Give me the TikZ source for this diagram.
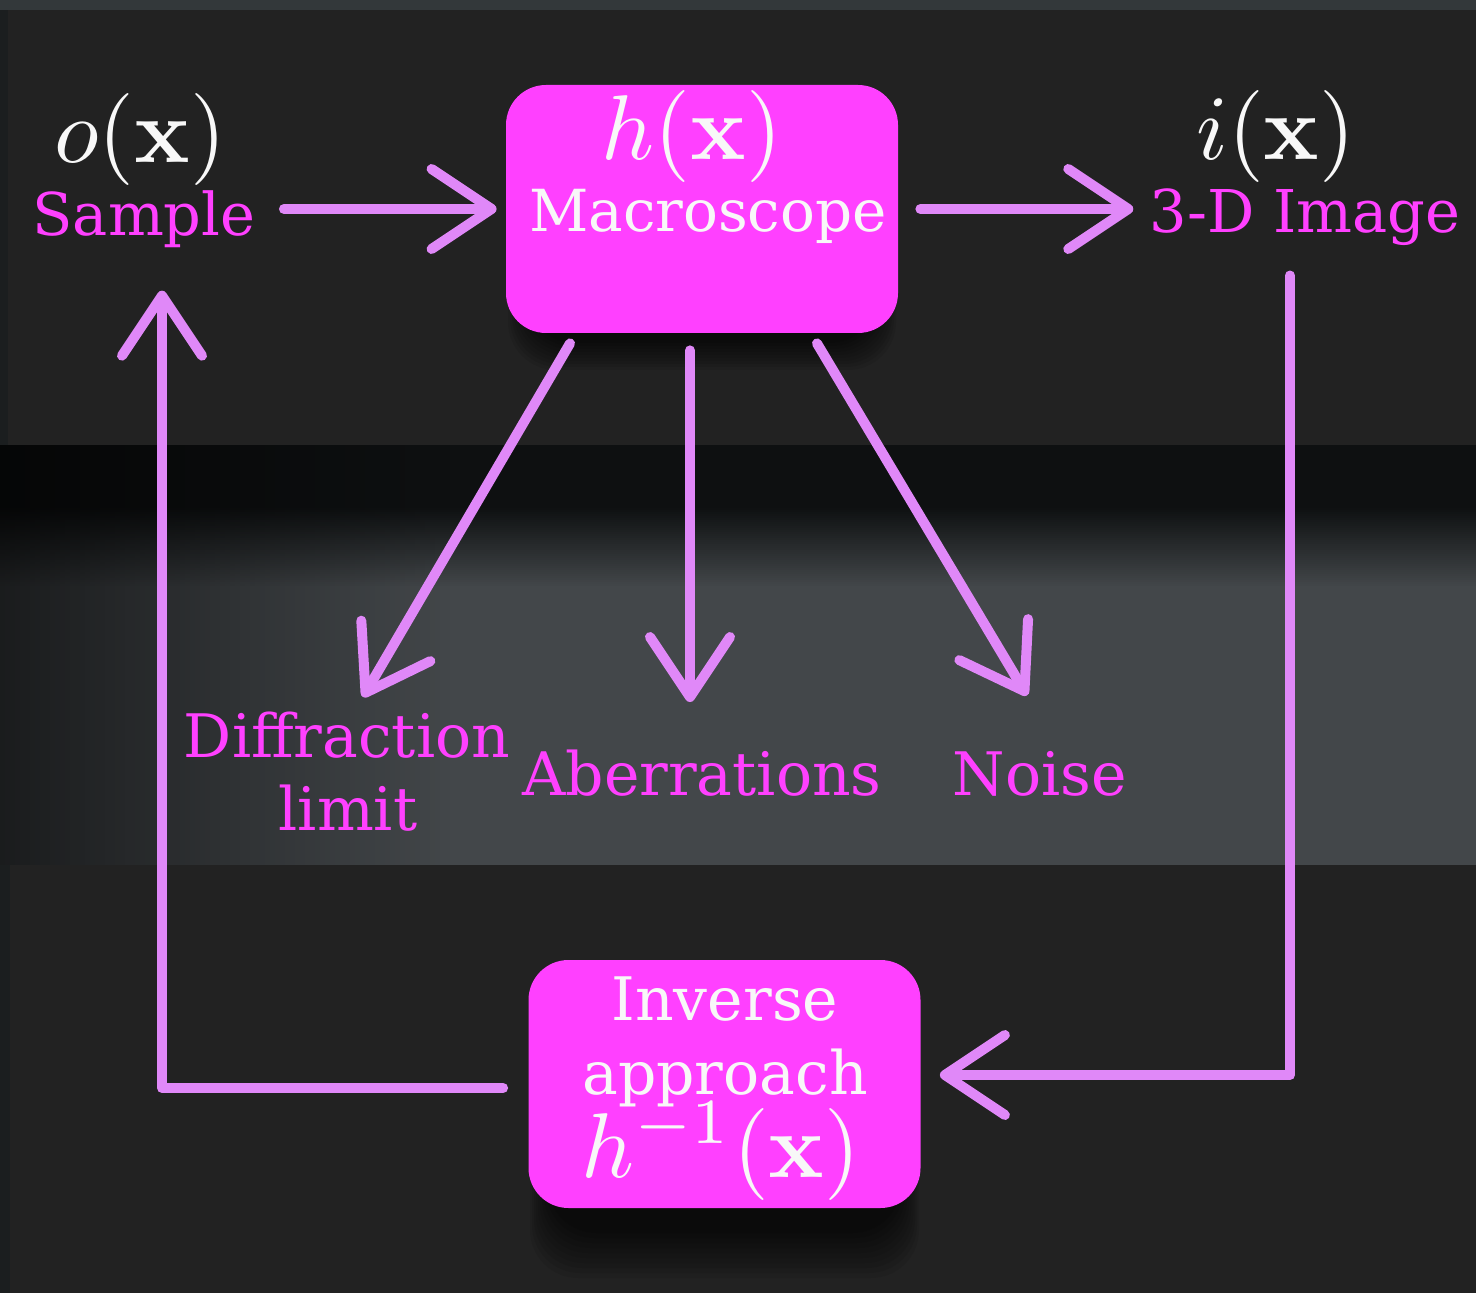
\documentclass[tikz,border=0pt]{standalone}
\usepackage{graphicx}
\usepackage[no-math]{fontspec}
\setmainfont{DejaVu Serif}
\usetikzlibrary{arrows.meta,calc}
\definecolor{panel}{HTML}{222222}
\definecolor{basebg}{HTML}{1B1E1F}
\definecolor{topstrip}{HTML}{33383A}
\definecolor{midgray}{HTML}{43474A}
\definecolor{darkband}{HTML}{0E1011}
\definecolor{chalk}{HTML}{E088F8}
\definecolor{mag}{HTML}{FF40FF}
\definecolor{wht}{HTML}{F8F8F8}
\newcommand{\bigmath}[1]{\scalebox{4.6}{$#1$}}
\tikzset{
  txt/.style={inner sep=0pt, anchor=base},
  maglbl/.style={txt, text=mag, font=\fontsize{29.5}{32}\selectfont},
  sidelbl/.style={txt, text=mag, font=\fontsize{30}{32}\selectfont},
  whtlbl/.style={txt, text=wht, font=\fontsize{29}{32}\selectfont},
  mathlbl/.style={txt, text=wht},
  boxnode/.style={fill=mag, rounded corners=20pt, minimum width=196pt, minimum height=124pt, inner sep=0pt},
  chalkline/.style={draw=chalk, line width=5pt, line cap=round, line join=round,
    -{Straight Barb[length=30pt,width=40pt,round]}},
}
\begin{document}
\begin{tikzpicture}[x=0.5pt,y=-0.5pt]
\useasboundingbox (0,0) rectangle (1476,1293);
% background
\fill[basebg] (0,0) rectangle (1476,1293);
\fill[topstrip] (0,0) rectangle (1476,10);
\fill[panel] (8,10) rectangle (1476,445);
\fill[midgray] (0,445) rectangle (1476,865);
\fill[darkband] (0,445) rectangle (1476,506);
\foreach \j in {0,...,39}{
  \fill[darkband, opacity={1-\j/40}] (0,{506+\j*2}) rectangle (1476,{508+\j*2});
}
\foreach \i in {0,...,89}{
  \fill[black, opacity={0.6*(1-\i/90)}] ({\i*5},445) rectangle ({\i*5+5},865);
}
\fill[panel] (10,865) rectangle (1476,1293);
% shadows
\foreach \i in {1,...,10}{
  \fill[black, opacity=0.08, rounded corners=24pt] ({506+\i*2},{100+\i*1}) rectangle ({898-\i*2},{333+40-\i*3});
  \fill[black, opacity=0.08, rounded corners=24pt] ({528+\i*2},{985+\i*1}) rectangle ({921-\i*2},{1208+75-\i*5});
}
% boxes
\node[boxnode] (mac) at (702,209) {};
\node[boxnode] (inv) at (724.5,1084) {};
% texts
\node[mathlbl] (ox) at (140,163) {\bigmath{o(\mathbf{x})}};
\node[maglbl] (sample) at (144,236) {Sample};
\node[mathlbl] (hx) at (692,160) {\bigmath{h(\mathbf{x})}};
\node[whtlbl] (macro) at (708,232) {Macroscope};
\node[mathlbl] (ix) at (1276,160) {\bigmath{i(\mathbf{x})}};
\node[maglbl] (img) at (1305,233) {3-D Image};
\node[sidelbl] (diff) at (347,757) {Diffraction};
\node[sidelbl] (lim) at (348,830) {limit};
\node[sidelbl] (aber) at (702,795) {Aberrations};
\node[sidelbl] (noise) at (1040,795) {Noise};
\node[whtlbl, font=\fontsize{30}{32}\selectfont] (inverse) at (725,1020) {Inverse};
\node[whtlbl, font=\fontsize{30}{32}\selectfont] (appr) at (725,1094) {approach};
\node[mathlbl] (hinv) at (721,1177) {\bigmath{h^{-1}(\mathbf{x})}};
% connectors
\draw[chalkline] ([xshift=14pt]sample.east |- mac.west) -- ([xshift=-4.5pt]mac.west);
\draw[chalkline] ([xshift=11pt]mac.east) -- ([xshift=-8pt]img.west |- mac.east);
\draw[chalkline] ([xshift=-66pt,yshift=-5pt]mac.south) -- ([xshift=8pt,yshift=7pt]diff.north);
\draw[chalkline] ([xshift=-6pt,yshift=-8.5pt]mac.south) -- ([xshift=-6pt,yshift=23.5pt]aber.north);
\draw[chalkline] ([xshift=57.5pt,yshift=-5pt]mac.south) -- ([xshift=-6.5pt,yshift=27.5pt]noise.north);
\draw[chalkline] ([xshift=-7.5pt,yshift=-14.5pt]img.south) |- ([xshift=9.5pt,yshift=4.5pt]inv.east);
\draw[chalkline] ([xshift=-12.5pt,yshift=-2pt]inv.west) -| ([xshift=9pt,yshift=-21pt]sample.south);
\end{tikzpicture}
\end{document}
